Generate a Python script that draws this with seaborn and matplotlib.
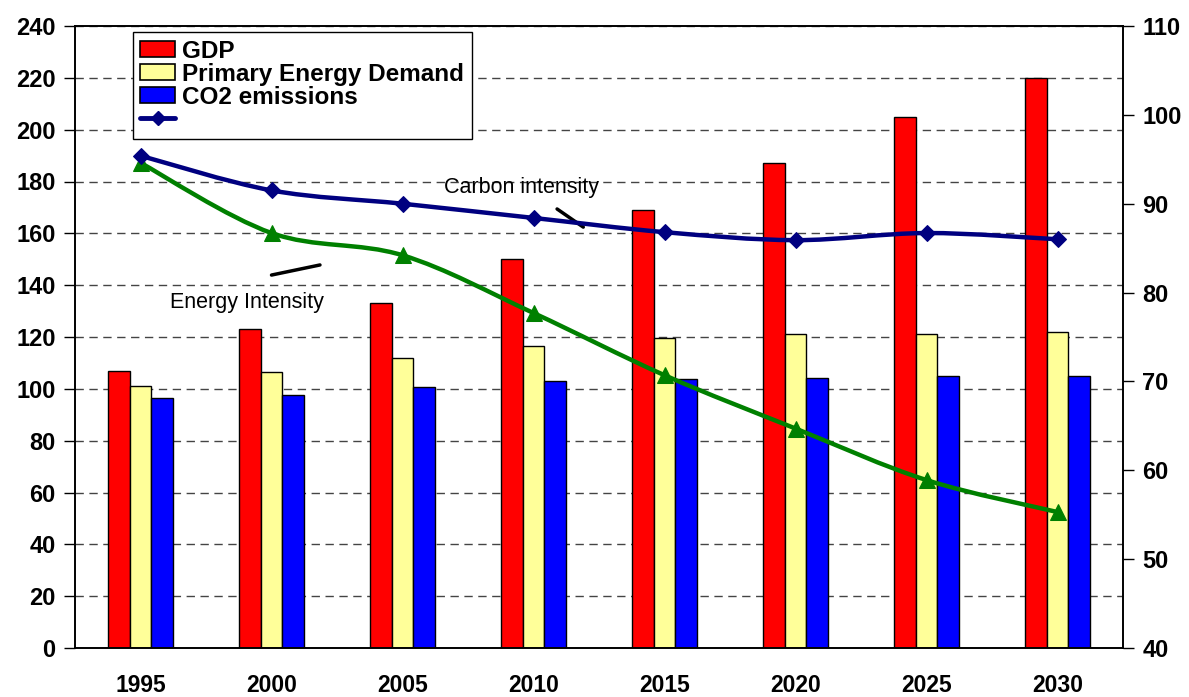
import numpy as np
import pandas as pd
import matplotlib
matplotlib.use("Agg")
import matplotlib.pyplot as plt
from matplotlib.path import Path
from matplotlib.patches import PathPatch, Patch
from matplotlib.lines import Line2D
import seaborn as sns

years = ["1995", "2000", "2005", "2010", "2015", "2020", "2025", "2030"]
gdp = [107, 123, 133, 150, 169, 187, 205, 220]
energy_demand = [101, 106.5, 112, 116.5, 119.5, 121.3, 121, 122]
co2 = [96.5, 97.5, 100.8, 103, 103.8, 104.2, 105, 105]
carbon_intensity = [95.4, 91.5, 90.0, 88.4, 86.8, 85.9, 86.7, 86.0]
energy_intensity = [94.6, 86.7, 84.2, 77.7, 70.7, 64.7, 58.9, 55.3]
series_names = ["GDP", "Primary Energy Demand", "CO2 emissions"]
bar_colors = ["#FF0000", "#FFFF99", "#0000FF"]

sns.set_theme(style="white")
plt.rcParams["font.family"] = ["Liberation Sans", "DejaVu Sans"]
plt.rcParams["text.color"] = "black"
plt.rcParams["xtick.color"] = "black"
plt.rcParams["ytick.color"] = "black"
plt.rcParams["axes.labelcolor"] = "black"

df = pd.DataFrame({
    "year": years * 3,
    "value": gdp + energy_demand + co2,
    "series": [series_names[0]] * 8 + [series_names[1]] * 8 + [series_names[2]] * 8,
})

fig = plt.figure(figsize=(11.89, 6.97), dpi=100)
ax = fig.add_axes([75 / 1189, 49 / 697, 1048 / 1189, 622 / 697])

sns.barplot(data=df, x="year", y="value", hue="series", palette=bar_colors,
            width=0.5, gap=0, saturation=1, edgecolor="black", linewidth=1,
            ax=ax, legend=False, zorder=2)

ax.set_xlim(-0.5, 7.5)
ax.set_ylim(0, 240)
ax.set_yticks(np.arange(0, 241, 20))
ax.set_yticklabels([str(v) for v in range(0, 241, 20)], fontsize=17, fontweight="bold")
ax.set_xticks(range(8))
ax.set_xticklabels(years, fontsize=16.5, fontweight="bold")
ax.tick_params(axis="x", which="major", length=0, pad=19)
ax.set_xticks(np.arange(0.5, 7.5, 1), minor=True)
ax.tick_params(axis="x", which="minor", length=8, width=1, color="black", direction="out")
ax.tick_params(axis="y", length=8, width=1, color="black", direction="out", pad=6)
ax.set_xlabel("")
ax.set_ylabel("")
ax.yaxis.grid(True, linestyle=(0, (6, 4)), color="#444444", linewidth=1)
ax.set_axisbelow(True)
for s in ax.spines.values():
    s.set_color("black")
    s.set_linewidth(1.2)

ax2 = ax.twinx()
ax2.set_ylim(40, 110)
ax2.set_yticks(np.arange(40, 111, 10))
ax2.set_yticklabels([str(v) for v in range(40, 111, 10)], fontsize=17, fontweight="bold")
ax2.tick_params(axis="y", length=8, width=1, color="black", direction="out", pad=6)
ax2.grid(False)
for s in ax2.spines.values():
    s.set_color("black")
    s.set_linewidth(1.2)


def smooth_path(xs, ys):
    pts = np.column_stack([xs, ys]).astype(float)
    ext = np.vstack([pts[0], pts, pts[-1]])
    verts = [tuple(pts[0])]
    codes = [Path.MOVETO]
    for i in range(len(pts) - 1):
        p0, p1, p2, p3 = ext[i], ext[i + 1], ext[i + 2], ext[i + 3]
        c1 = p1 + (p2 - p0) / 6.0
        c2 = p2 - (p3 - p1) / 6.0
        verts += [tuple(c1), tuple(c2), tuple(p2)]
        codes += [Path.CURVE4] * 3
    return Path(verts, codes)


xpos = np.arange(8)
for vals, col, mk, ms in [(energy_intensity, "#008000", "^", 11),
                          (carbon_intensity, "#000080", "D", 8)]:
    ax2.add_patch(PathPatch(smooth_path(xpos, vals), facecolor="none",
                            edgecolor=col, linewidth=3.2, zorder=3))
    sns.lineplot(x=xpos, y=vals, ax=ax2, color=col, linewidth=0, marker=mk,
                 markersize=ms, markeredgecolor=col, zorder=4)

# annotations (left-axis data coordinates)
ax.text(2.91, 177.5, "Carbon intensity", fontsize=15.5, ha="center", va="center", zorder=5)
ax.plot([3.18, 3.38], [169.4, 162.4], color="black", linewidth=2.5, zorder=5)
ax.text(0.81, 133.5, "Energy Intensity", fontsize=15.5, ha="center", va="center", zorder=5)
ax.plot([1.0, 1.37], [143.9, 147.8], color="black", linewidth=2.5, zorder=5)

handles = [Patch(facecolor=c, edgecolor="black", linewidth=1.2) for c in bar_colors]
handles.append(Line2D([0], [0], color="#000080", linewidth=3.5, marker="D", markersize=7))
labels = series_names + [""]
leg = ax2.legend(handles, labels, loc="upper left", bbox_to_anchor=(0.055, 0.99),
                 prop={"weight": "bold", "size": 17.5}, frameon=True, fancybox=False,
                 edgecolor="black", framealpha=1, borderpad=0.3, labelspacing=0.0,
                 handlelength=1.45, handleheight=0.65, handletextpad=0.3,
                 borderaxespad=0)
leg.get_frame().set_linewidth(1)
leg.set_zorder(10)

fig.savefig("out.png", dpi=100)
